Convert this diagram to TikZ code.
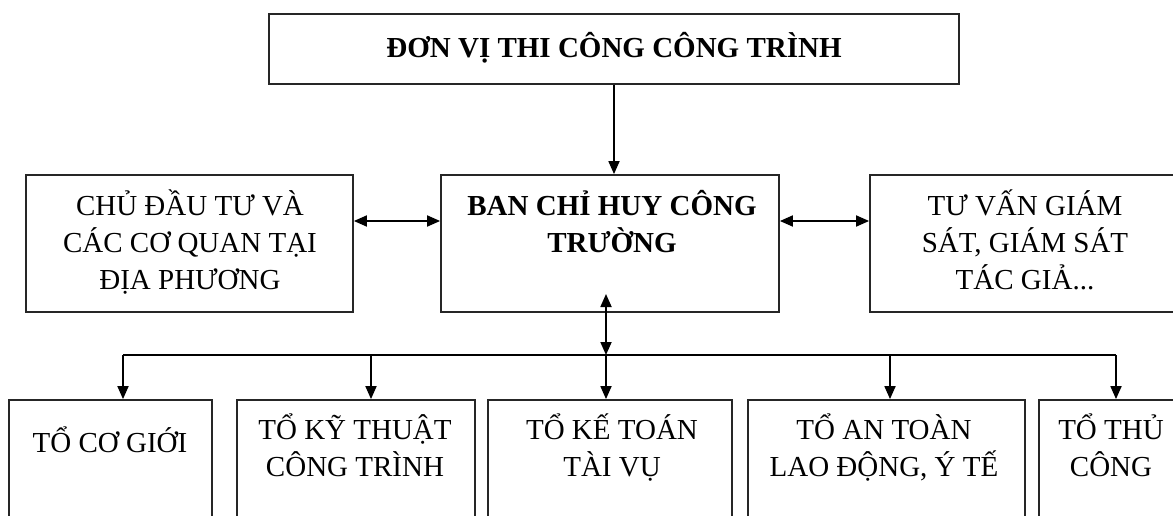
\documentclass[tikz,border=0pt]{standalone}
\usepackage{fontspec}
\setmainfont{Liberation Serif}
\usetikzlibrary{arrows.meta,calc}
\begin{document}
\begin{tikzpicture}[x=1pt,y=-1pt,
  box/.style={draw=black!85, line width=1.8pt, rectangle, inner sep=0pt},
  lbl/.style={inner sep=0pt, align=center, anchor=base, font=\fontsize{29}{37}\selectfont},
  lblb/.style={inner sep=0pt, align=center, anchor=base, font=\fontsize{29}{37}\selectfont\bfseries},
  tipd/.style={line width=1.8pt, -{Triangle[length=13pt,width=11pt]}},
  tipdd/.style={line width=1.8pt, {Triangle[length=13pt,width=11pt]}-{Triangle[length=13pt,width=11pt]}},
  plain/.style={line width=1.8pt}
]
\useasboundingbox (0,0) rectangle (1173,516);
\fill[white] (0,0) rectangle (1173,516);
\clip (0,0) rectangle (1173,516);

% boxes
\node[box, minimum width=690pt, minimum height=70pt] (top) at (614,49) {};
\node[box, minimum width=327pt, minimum height=137pt] (left) at (189.5,243.5) {};
\node[box, minimum width=338pt, minimum height=137pt] (center) at (610,243.5) {};
\node[box, minimum width=315pt, minimum height=137pt] (right) at (1027.5,243.5) {};
\node[box, minimum width=203pt, minimum height=140pt] (b1) at (110.5,470) {};
\node[box, minimum width=238pt, minimum height=140pt] (b2) at (356,470) {};
\node[box, minimum width=244pt, minimum height=140pt] (b3) at (610,470) {};
\node[box, minimum width=277pt, minimum height=140pt] (b4) at (886.5,470) {};
\node[box, minimum width=144pt, minimum height=140pt] (b5) at (1111,470) {};

% texts (anchor=base is the baseline of the last line)
\node[lblb] (t0) at (614,58) {ĐƠN VỊ THI CÔNG CÔNG TRÌNH};
\node[lbl] (tl) at (190,289) {CHỦ ĐẦU TƯ VÀ\\CÁC CƠ QUAN TẠI\\ĐỊA PHƯƠNG};
\node[lblb] (tc) at (612,252) {BAN CHỈ HUY CÔNG\\TRƯỜNG};
\node[lbl] (tr) at (1025,289) {TƯ VẤN GIÁM\\SÁT, GIÁM SÁT\\TÁC GIẢ...};
\node[lbl] (tb1) at (110,452) {TỔ CƠ GIỚI};
\node[lbl] (tb2) at (355,476) {TỔ KỸ THUẬT\\CÔNG TRÌNH};
\node[lbl] (tb3) at (612,476) {TỔ KẾ TOÁN\\TÀI VỤ};
\node[lbl] (tb4) at (884,476) {TỔ AN TOÀN\\LAO ĐỘNG, Ý TẾ};
\node[lbl] (tb5) at (1111,476) {TỔ THỦ\\CÔNG};

% connectors
\draw[tipd] (top.south) -- (top.south |- center.north);
\draw[tipdd] ([yshift=22.5pt]left.east) -- ([yshift=22.5pt]center.west);
\draw[tipdd] ([yshift=22.5pt]center.east) -- ([yshift=22.5pt]right.west);

\coordinate (cb) at (606,294);
\coordinate (bus) at (606,355);
\coordinate (j1) at (123,355);
\coordinate (j2) at (371,355);
\coordinate (j4) at (890,355);
\coordinate (j5) at (1116,355);
\draw[plain] (j1) -- (j5);
\draw[tipdd] (cb) -- (bus);
\draw[tipd] (bus) -- (bus |- b3.north);
\draw[tipd] (j1) -- (j1 |- b1.north);
\draw[tipd] (j2) -- (j2 |- b2.north);
\draw[tipd] (j4) -- (j4 |- b4.north);
\draw[tipd] (j5) -- (j5 |- b5.north);
\end{tikzpicture}
\end{document}
